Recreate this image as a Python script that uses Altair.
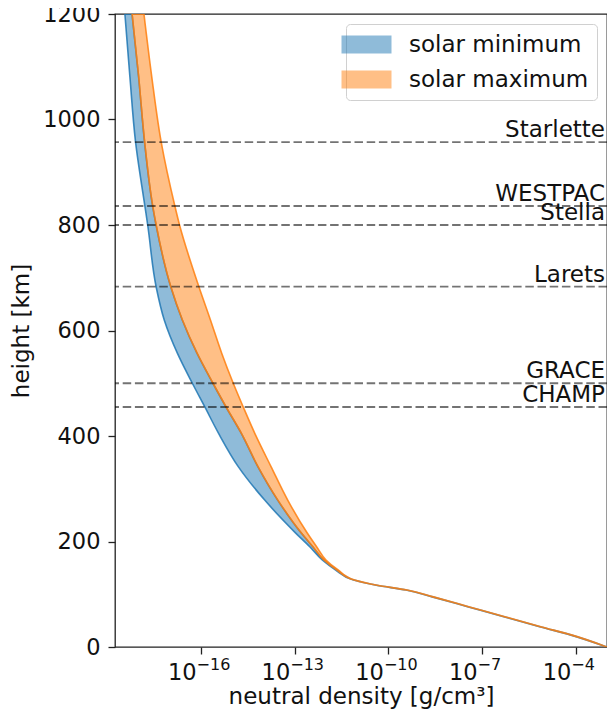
import altair as alt
import pandas as pd

# ---- data (log10 of density in g/cm^3) ----
heights = [0, 23, 38, 57, 76, 95, 108, 117, 127, 146, 165, 190, 216, 279, 342,
           405, 455, 500, 557, 620, 683, 800, 836, 958, 1081, 1200]

min_lo = [-3.00, -4.18, -5.13, -6.28, -7.44, -8.60, -9.44, -10.39, -11.12, -11.69,
          -12.12, -12.52, -12.97, -13.97, -14.81, -15.44, -15.88, -16.28, -16.76,
          -17.18, -17.44, -17.71, -17.80, -18.10, -18.28, -18.44]
min_hi = [-3.00, -4.16, -5.11, -6.26, -7.42, -8.58, -9.42, -10.37, -11.10, -11.65,
          -12.07, -12.42, -12.79, -13.55, -14.18, -14.71, -15.20, -15.62, -16.13,
          -16.60, -16.97, -17.44, -17.55, -17.81, -18.00, -18.21]
max_lo = [-3.00, -4.16, -5.11, -6.26, -7.42, -8.58, -9.42, -10.37, -11.10, -11.65,
          -12.07, -12.42, -12.79, -13.55, -14.18, -14.71, -15.20, -15.62, -16.13,
          -16.60, -16.97, -17.44, -17.55, -17.81, -18.00, -18.21]
max_hi = [-3.00, -4.14, -5.09, -6.24, -7.40, -8.56, -9.40, -10.35, -11.08, -11.61,
          -12.00, -12.30, -12.60, -13.23, -13.76, -14.28, -14.65, -14.97, -15.34,
          -15.70, -16.07, -16.69, -16.84, -17.28, -17.58, -17.83]

sat_names = ["Starlette", "WESTPAC", "Stella", "Larets", "GRACE", "CHAMP"]
sat_alts = [957, 836, 800, 683, 500, 455]

tick_exps = [-16, -13, -10, -7, -4]
tick_sups = ["\u221216", "\u221213", "\u221210", "\u22127", "\u22124"]
y_ticks = [0, 200, 400, 600, 800, 1000, 1200]

series_names = ["solar minimum", "solar maximum"]
series_colors = ["#1f77b4", "#ff7f0e"]

X_DOMAIN_EXP = [-18.757, -3.0]
FONT = "DejaVu Sans"

# ---- tables ----
band = pd.DataFrame({
    "height": heights,
    "min_lo": [10.0 ** v for v in min_lo],
    "min_hi": [10.0 ** v for v in min_hi],
    "max_lo": [10.0 ** v for v in max_lo],
    "max_hi": [10.0 ** v for v in max_hi],
})
sats = pd.DataFrame({"name": sat_names, "alt": sat_alts})
ticks = pd.DataFrame({"val": [10.0 ** e for e in tick_exps], "sup": tick_sups})

xscale = alt.Scale(type="log", domain=[10.0 ** X_DOMAIN_EXP[0], 10.0 ** X_DOMAIN_EXP[1]], nice=False)
yscale = alt.Scale(domain=[0, 1200], nice=False, zero=False)

xaxis = alt.Axis(
    values=[10.0 ** e for e in tick_exps], labelExpr="'10'", labelAlign="right",
    labelOffset=-5, labelBaseline="alphabetic", labelPadding=25, tickSize=7,
    labelFontSize=22.5, labelFlush=False, labelOverlap=False, grid=False, domain=False,
    title="neutral density [g/cm\u00b3]", titleFontSize=23, titleBaseline="alphabetic",
    titleY=56, titleFontWeight="normal",
)
yaxis = alt.Axis(
    values=y_ticks, format="d", tickSize=7, labelPadding=8,
    labelFontSize=22.5, labelFlush=False, labelOverlap=False, grid=False, domain=False,
    title="height [km]", titleFontSize=23, titleAngle=270, titleX=-87, titleY=316.5,
    titleBaseline="alphabetic", titleAlign="center", titleFontWeight="normal",
)

color = alt.Color(
    "series:N",
    scale=alt.Scale(domain=series_names, range=series_colors),
    legend=alt.Legend(
        title=None, orient="top-right", offset=10, padding=8,
        symbolType="M-2,-0.72H2V0.72H-2Z", symbolSize=625, symbolOpacity=0.5,
        symbolStrokeWidth=0, labelFontSize=23, labelFont=FONT, labelColor="#111",
        labelOffset=30, labelLimit=400, rowPadding=10, fillColor="white",
        strokeColor="#d0d0d0", cornerRadius=4,
    ),
)

area_min = alt.Chart(band).transform_calculate(series="'solar minimum'").mark_area(
    orient="horizontal", interpolate="monotone", fillOpacity=0.5,
    stroke=series_colors[0], strokeOpacity=0.85, strokeWidth=1.6, clip=True,
).encode(
    x=alt.X("min_lo:Q", scale=xscale, axis=xaxis),
    x2="min_hi:Q",
    y=alt.Y("height:Q", scale=yscale, axis=yaxis),
    color=color,
)

area_max = alt.Chart(band).transform_calculate(series="'solar maximum'").mark_area(
    orient="horizontal", interpolate="monotone", fillOpacity=0.5,
    stroke=series_colors[1], strokeOpacity=0.85, strokeWidth=1.6, clip=True,
).encode(
    x=alt.X("max_lo:Q", scale=xscale, axis=xaxis),
    x2="max_hi:Q",
    y=alt.Y("height:Q", scale=yscale, axis=yaxis),
    color=color,
)

rules = alt.Chart(sats).mark_rule(
    color="black", opacity=0.55, strokeWidth=1.8, strokeDash=[8.5, 3.7]
).encode(y=alt.Y("alt:Q", scale=yscale))

labels = alt.Chart(sats).mark_text(
    align="right", baseline="bottom", dx=-2, fontSize=23, font=FONT, color="#111"
).encode(
    x=alt.X(datum=10.0 ** X_DOMAIN_EXP[1], scale=xscale),
    y=alt.Y("alt:Q", scale=yscale),
    text="name:N",
)

sups = alt.Chart(ticks).mark_text(
    align="left", baseline="alphabetic", dx=-4.5, dy=23, fontSize=16, font=FONT, color="#111"
).encode(
    x=alt.X("val:Q", scale=xscale),
    y=alt.Y(datum=0, scale=yscale),
    text="sup:N",
)

chart = alt.layer(area_min, area_max, rules, labels, sups).properties(
    width=492, height=633,
    autosize=alt.AutoSizeParams(type="none"),
    padding={"left": 107, "top": 6, "right": 0, "bottom": 64},
    background="white",
).configure_view(
    stroke="#222", strokeWidth=1.3
).configure_axis(
    labelFont=FONT, titleFont=FONT, labelColor="#111", titleColor="#111",
    tickColor="#222", tickWidth=1.3,
)

chart.save("out.html", embed_options={"renderer": "svg", "actions": False})
